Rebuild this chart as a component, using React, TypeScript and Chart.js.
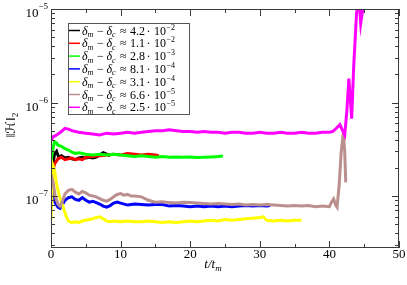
import { useEffect, useRef } from 'react';
import { Chart, registerables } from 'chart.js';
Chart.register(...registerables);

// ---- data (t/t_m, ||H||_2) ----
const blackT = [0, 0.2, 0.5, 0.8, 1.1, 1.5, 2, 2.5, 3, 3.5, 4, 4.5, 5, 5.5, 6, 6.5, 7, 7.5, 8, 8.5];
const blackV = [1.4e-7, 2.0e-7, 2.8e-7, 3.0e-7, 2.6e-7, 2.7e-7, 2.55e-7, 2.6e-7, 2.5e-7, 2.45e-7, 2.55e-7, 2.6e-7, 2.55e-7, 2.6e-7, 2.55e-7, 2.6e-7, 2.75e-7, 2.9e-7, 2.8e-7, 2.7e-7];

const redT = [0, 0.2, 0.5, 1, 1.5, 2, 2.5, 3, 3.5, 4, 4.5, 5, 6, 7, 8, 9, 10, 11, 12, 13, 14, 15, 15.5];
const redV = [1.2e-7, 1.7e-7, 2.2e-7, 2.5e-7, 2.6e-7, 2.45e-7, 2.5e-7, 2.55e-7, 2.45e-7, 2.5e-7, 2.45e-7, 2.6e-7, 2.65e-7, 2.7e-7, 2.75e-7, 2.8e-7, 2.75e-7, 2.85e-7, 2.8e-7, 2.75e-7, 2.8e-7, 2.75e-7, 2.7e-7];

const greenT = [0, 0.2, 0.5, 0.8, 1, 1.5, 2, 2.5, 3, 3.5, 4, 4.5, 5, 6, 7, 8, 9, 10, 11, 12, 13, 14, 15, 16, 17, 18, 19, 20, 21, 22, 23, 24, 24.7];
const greenV = [2.3e-7, 3.0e-7, 3.8e-7, 3.7e-7, 3.5e-7, 3.4e-7, 3.2e-7, 3.1e-7, 2.95e-7, 2.85e-7, 2.9e-7, 2.85e-7, 2.8e-7, 2.75e-7, 2.8e-7, 2.75e-7, 2.8e-7, 2.75e-7, 2.7e-7, 2.65e-7, 2.7e-7, 2.65e-7, 2.6e-7, 2.65e-7, 2.6e-7, 2.62e-7, 2.6e-7, 2.62e-7, 2.58e-7, 2.6e-7, 2.62e-7, 2.65e-7, 2.68e-7];

const blueT = [0, 0.3, 0.6, 1, 1.3, 1.7, 2, 2.5, 3, 3.5, 4, 4.5, 5, 5.5, 6, 6.5, 7, 7.5, 8, 8.5, 9, 9.5, 10, 11, 12, 13, 14, 15, 16, 17, 18, 19, 20, 21, 22, 23, 24, 25, 26, 27, 28, 29, 30, 31, 31.5];
const blueV = [1.6e-7, 1.2e-7, 8.5e-8, 7.6e-8, 7.4e-8, 8.2e-8, 9.0e-8, 9.6e-8, 9.8e-8, 9.2e-8, 9.0e-8, 9.6e-8, 9.0e-8, 8.6e-8, 8.8e-8, 8.5e-8, 8.2e-8, 7.8e-8, 7.6e-8, 7.9e-8, 8.4e-8, 8.6e-8, 8.4e-8, 8.0e-8, 8.2e-8, 8.1e-8, 8.0e-8, 8.1e-8, 8.1e-8, 7.8e-8, 7.9e-8, 7.8e-8, 7.7e-8, 7.8e-8, 7.7e-8, 7.8e-8, 7.7e-8, 7.8e-8, 7.7e-8, 7.8e-8, 7.9e-8, 7.8e-8, 7.9e-8, 7.8e-8, 7.9e-8];

const yellowT = [0, 0.15, 0.3, 0.5, 0.8, 1.2, 1.7, 2.2, 2.5, 3, 3.5, 4, 4.5, 5, 5.5, 6, 6.5, 7, 7.5, 8, 8.5, 9, 10, 11, 12, 13, 14, 15, 16, 17, 18, 19, 20, 21, 22, 23, 24, 25, 26, 27, 28, 29, 30, 30.5, 31, 32, 33, 34, 35, 36];
const yellowV = [5.5e-8, 1.2e-7, 2.1e-7, 1.9e-7, 1.35e-7, 1.0e-7, 7.8e-8, 6.0e-8, 5.4e-8, 5.2e-8, 5.3e-8, 5.2e-8, 5.4e-8, 5.5e-8, 5.6e-8, 5.7e-8, 5.9e-8, 6.0e-8, 5.7e-8, 5.4e-8, 5.3e-8, 5.4e-8, 5.3e-8, 5.4e-8, 5.3e-8, 5.3e-8, 5.4e-8, 5.3e-8, 5.2e-8, 5.3e-8, 5.2e-8, 5.3e-8, 5.4e-8, 5.3e-8, 5.4e-8, 5.5e-8, 5.4e-8, 5.6e-8, 5.5e-8, 5.6e-8, 5.7e-8, 5.8e-8, 5.9e-8, 6.0e-8, 5.5e-8, 5.4e-8, 5.5e-8, 5.4e-8, 5.5e-8, 5.5e-8];

const brownT = [0, 0.3, 0.6, 1, 1.3, 1.7, 2, 2.5, 3, 3.5, 4, 4.5, 5, 5.5, 6, 6.5, 7, 7.5, 8, 8.5, 9, 9.5, 10, 10.5, 11, 11.5, 12, 13, 14, 15, 16, 17, 18, 19, 20, 21, 22, 23, 24, 25, 26, 27, 28, 29, 30, 31, 32, 33, 34, 35, 36, 37, 38, 39, 40, 40.3, 40.6, 40.9, 41.1, 41.4, 41.7, 42.0, 42.2, 42.35];
const brownV = [1.7e-7, 1.4e-7, 1.0e-7, 8.2e-8, 7.8e-8, 9.0e-8, 1.05e-7, 1.15e-7, 1.18e-7, 1.1e-7, 1.05e-7, 1.12e-7, 1.08e-7, 1.02e-7, 1.0e-7, 9.8e-8, 9.4e-8, 9.0e-8, 8.8e-8, 9.2e-8, 9.8e-8, 1.04e-7, 1.06e-7, 1.02e-7, 1.04e-7, 1.0e-7, 1.0e-7, 9.8e-8, 9.0e-8, 8.6e-8, 8.7e-8, 8.5e-8, 8.4e-8, 8.6e-8, 8.5e-8, 8.4e-8, 8.3e-8, 8.2e-8, 8.3e-8, 8.2e-8, 8.1e-8, 8.2e-8, 8.0e-8, 8.1e-8, 8.0e-8, 8.1e-8, 8.0e-8, 7.9e-8, 7.8e-8, 7.9e-8, 7.8e-8, 7.9e-8, 7.7e-8, 7.8e-8, 7.7e-8, 8.6e-8, 9.3e-8, 8.0e-8, 7.6e-8, 1.3e-7, 3.0e-7, 4.7e-7, 3.0e-7, 1.4e-7];

const magentaT = [0, 0.3, 0.6, 1, 1.5, 2, 2.5, 3, 3.5, 4, 5, 6, 7, 8, 9, 10, 11, 12, 13, 14, 15, 16, 17, 18, 19, 20, 21, 22, 23, 24, 25, 26, 27, 28, 29, 30, 31, 32, 33, 34, 35, 36, 37, 38, 39, 40, 40.5, 41, 41.5, 41.9, 42.2, 42.5, 42.8, 43.0, 43.2, 43.5, 43.9, 44.2, 44.5, 44.8, 45.2];
const magentaV = [3.9e-7, 4.3e-7, 4.4e-7, 4.6e-7, 4.9e-7, 5.3e-7, 5.2e-7, 5.0e-7, 4.9e-7, 4.8e-7, 4.7e-7, 4.6e-7, 4.5e-7, 4.7e-7, 4.6e-7, 4.7e-7, 4.8e-7, 4.7e-7, 4.8e-7, 4.9e-7, 5.0e-7, 5.0e-7, 5.1e-7, 5.0e-7, 4.9e-7, 4.9e-7, 4.8e-7, 4.9e-7, 4.8e-7, 4.8e-7, 4.7e-7, 4.8e-7, 4.8e-7, 4.7e-7, 4.7e-7, 4.8e-7, 4.7e-7, 4.7e-7, 4.8e-7, 4.7e-7, 4.7e-7, 4.8e-7, 4.7e-7, 4.7e-7, 4.8e-7, 4.8e-7, 4.9e-7, 5.3e-7, 5.8e-7, 5.0e-7, 4.5e-7, 8e-7, 1.8e-6, 1.1e-6, 6.7e-7, 2.5e-6, 9e-6, 1.4e-5, 7e-6, 1e-5, 1.6e-5];

const seriesColors = ['#000000', '#ff0000', '#00ff00', '#0000ff', '#ffff00', '#bc8f8f', '#ff00ff'];
const legendMantissa = ['4.2', '1.1', '2.8', '8.1', '3.1', '6.6', '2.5'];
const legendExponent = ['−2', '−2', '−3', '−4', '−4', '−5', '−5'];

const xMin = 0;
const xMax = 50;
const xMajorTicks = [0, 10, 20, 30, 40, 50];
const xMinorTicks = [5, 15, 25, 35, 45];
const yMin = 2.78e-8;
const yMax = 1e-5;
const yMajorTicks = [1e-5, 1e-6, 1e-7];
const yMajorExp = ['−5', '−6', '−7'];

const SERIF = '"Liberation Serif", "DejaVu Serif", serif';

type Run = { t: string; f: string; dy?: number };

function runsWidth(ctx: CanvasRenderingContext2D, runs: Run[]) {
  let w = 0;
  for (const r of runs) {
    ctx.font = r.f;
    w += ctx.measureText(r.t).width;
  }
  return w;
}

function drawRuns(ctx: CanvasRenderingContext2D, x: number, y: number, runs: Run[]) {
  let cx = x;
  ctx.textAlign = 'left';
  ctx.textBaseline = 'alphabetic';
  for (const r of runs) {
    ctx.font = r.f;
    ctx.fillText(r.t, cx, y + (r.dy || 0));
    cx += ctx.measureText(r.t).width;
  }
  return cx;
}

const decorPlugin = {
  id: 'decor',
  afterDatasetsDraw(chart: any) {
    const ctx: CanvasRenderingContext2D = chart.ctx;
    const xs = chart.scales.x;
    const ys = chart.scales.y;
    const { left, right, top, bottom } = chart.chartArea;
    ctx.save();
    // frame
    ctx.strokeStyle = '#3a3a3a';
    ctx.lineWidth = 1;
    ctx.strokeRect(left + 0.5, top + 0.5, right - left - 1, bottom - top - 1);
    ctx.beginPath();
    for (const v of xMajorTicks) {
      const px = Math.round(xs.getPixelForValue(v)) + 0.5;
      ctx.moveTo(px, bottom); ctx.lineTo(px, bottom - 7);
      ctx.moveTo(px, top); ctx.lineTo(px, top + 7);
    }
    for (const v of xMinorTicks) {
      const px = Math.round(xs.getPixelForValue(v)) + 0.5;
      ctx.moveTo(px, bottom); ctx.lineTo(px, bottom - 4);
      ctx.moveTo(px, top); ctx.lineTo(px, top + 4);
    }
    for (let e = -8; e <= -5; e++) {
      for (let m = 1; m <= 9; m++) {
        const v = m * Math.pow(10, e);
        if (v < yMin || v > yMax * 1.0001) continue;
        const py = Math.round(ys.getPixelForValue(v)) + 0.5;
        const len = m === 1 ? 7 : 4;
        ctx.moveTo(left, py); ctx.lineTo(left + len, py);
        ctx.moveTo(right, py); ctx.lineTo(right - len, py);
      }
    }
    ctx.stroke();

    ctx.fillStyle = '#000';
    // y tick labels
    yMajorTicks.forEach((v, i) => {
      const py = ys.getPixelForValue(v);
      const supF = `9px ${SERIF}`;
      const mainF = `13px ${SERIF}`;
      ctx.font = supF;
      const sw = ctx.measureText(yMajorExp[i]).width;
      ctx.font = mainF;
      const mw = ctx.measureText('10').width;
      const endX = left - 3;
      drawRuns(ctx, endX - sw - mw, py + 8, [
        { t: '10', f: mainF },
        { t: yMajorExp[i], f: supF, dy: -8 },
      ]);
    });
    // x tick labels
    ctx.font = `13px ${SERIF}`;
    ctx.textAlign = 'center';
    ctx.textBaseline = 'alphabetic';
    for (const v of xMajorTicks) {
      ctx.fillText(String(v), xs.getPixelForValue(v), bottom + 10);
    }
    // x title
    const xt: Run[] = [
      { t: 't/t', f: `italic 13px ${SERIF}` },
      { t: 'm', f: `italic 9px ${SERIF}`, dy: 3 },
    ];
    const xw = runsWidth(ctx, xt);
    drawRuns(ctx, 213 - xw / 2, bottom + 20, xt);
    // y title
    ctx.save();
    ctx.translate(11, 125);
    ctx.rotate(-Math.PI / 2);
    const yt: Run[] = [
      { t: '‖', f: `13px ${SERIF}` },
      { t: 'ℋ', f: `13px "DejaVu Sans", serif` },
      { t: '‖', f: `13px ${SERIF}` },
      { t: '2', f: `9px ${SERIF}`, dy: 3 },
    ];
    const yw = runsWidth(ctx, yt);
    drawRuns(ctx, -yw / 2, 4, yt);
    ctx.restore();

    // legend
    const lx = 68, ly = 23, lw = 121, lh = 91;
    ctx.fillStyle = '#fff';
    ctx.fillRect(lx, ly, lw, lh);
    ctx.strokeStyle = '#555';
    ctx.lineWidth = 1;
    ctx.strokeRect(lx + 0.5, ly + 0.5, lw, lh);
    const mf = `12px ${SERIF}`;
    const itf = `italic 12px ${SERIF}`;
    const sf = `italic 8px ${SERIF}`;
    for (let i = 0; i < seriesColors.length; i++) {
      const cy = 30.5 + i * 12.8;
      ctx.strokeStyle = seriesColors[i];
      ctx.lineWidth = 1.5;
      ctx.beginPath();
      ctx.moveTo(lx + 1, cy);
      ctx.lineTo(lx + 12, cy);
      ctx.stroke();
      ctx.fillStyle = '#000';
      const by = cy + 4;
      const parts: [number, string, string, number][] = [
        [14, 'δ', itf, 0],
        [19.5, 'm', sf, 2.5],
        [29, '−', mf, 0],
        [38.5, 'δ', itf, 0],
        [44, 'c', sf, 2.5],
        [52, '≈', mf, 0],
        [62, legendMantissa[i], mf, 0],
        [78.5, '·', mf, 0],
        [86, '10', mf, 0],
        [98.5, legendExponent[i], `8px ${SERIF}`, -5],
      ];
      ctx.textAlign = 'left';
      ctx.textBaseline = 'alphabetic';
      for (const [dx, t, f, dy] of parts) {
        ctx.font = f;
        ctx.fillText(t, lx + dx, by + dy);
      }
    }
    ctx.restore();
  },
};

export default function App() {
  const ref = useRef<HTMLCanvasElement | null>(null);
  useEffect(() => {
    if (!ref.current) return;
    const allT = [blackT, redT, greenT, blueT, yellowT, brownT, magentaT];
    const allV = [blackV, redV, greenV, blueV, yellowV, brownV, magentaV];
    const datasets = allT.map((ts, i) => ({
      label: legendMantissa[i],
      data: ts.map((t, j) => ({ x: t, y: allV[i][j] })),
      borderColor: seriesColors[i],
      backgroundColor: seriesColors[i],
      borderWidth: 3,
      pointRadius: 0,
      tension: 0,
      fill: false,
      order: seriesColors.length - i,
    }));
    const chart = new Chart(ref.current, {
      type: 'line',
      data: { datasets },
      options: {
        animation: false,
        responsive: false,
        devicePixelRatio: 1,
        layout: { padding: { left: 51, right: 8, top: 9, bottom: 37 } },
        plugins: { legend: { display: false }, tooltip: { enabled: false } },
        scales: {
          x: { type: 'linear', min: xMin, max: xMax, display: false },
          y: { type: 'logarithmic', min: yMin, max: yMax, display: false },
        },
      },
      plugins: [decorPlugin],
    });
    return () => chart.destroy();
  }, []);
  return (
    <div style={{ position: 'fixed', left: 0, top: 0, width: 407, height: 285, background: '#fff' }}>
      <canvas ref={ref} width={407} height={285} />
    </div>
  );
}
